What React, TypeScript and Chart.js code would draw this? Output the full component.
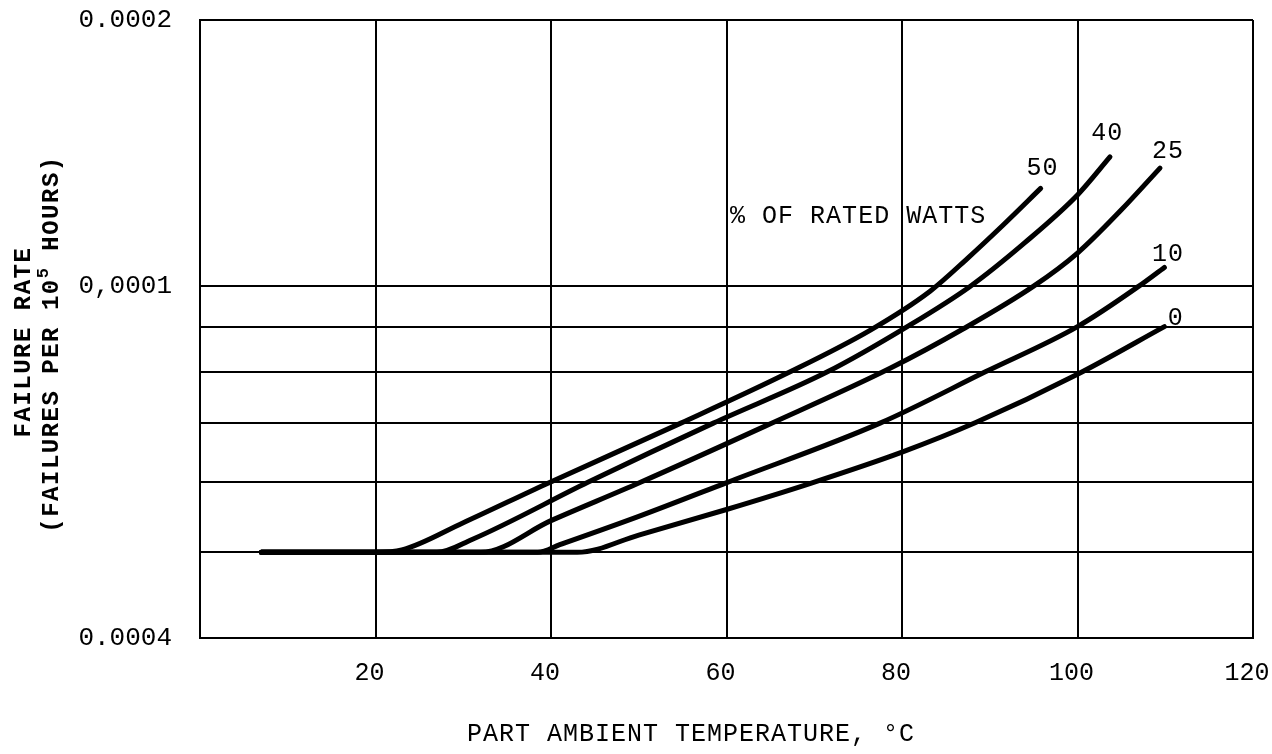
import { useEffect, useRef } from "react";
import { Chart, registerables } from "chart.js";

Chart.register(...registerables);

// ---------- data ----------
const temps50 = [7, 20, 23, 30, 39.4, 54.8, 66.9, 76.4, 83.2, 87.5, 91.5, 95.8];
const rates50 = [5e-5, 5e-5, 5.03e-5, 5.4e-5, 5.97e-5, 7e-5, 7.97e-5, 8.92e-5, 9.87e-5, 1.076e-4, 1.172e-4, 1.29e-4];

const temps40 = [7, 27, 31, 44.2, 58.5, 71.5, 80.6, 87.8, 94, 100, 103.7];
const rates40 = [5e-5, 5e-5, 5.17e-5, 6e-5, 7e-5, 8e-5, 9e-5, 1e-4, 1.12e-4, 1.268e-4, 1.4e-4];

const temps25 = [7, 32, 40, 50.2, 64.4, 78.7, 87, 95, 100, 105, 109.4];
const rates25 = [5e-5, 5e-5, 5.43e-5, 6e-5, 6.945e-5, 8.08e-5, 8.95e-5, 1e-4, 1.09e-4, 1.22e-4, 1.36e-4];

const temps10 = [7, 38.5, 41, 50, 60.1, 77.5, 89.5, 100, 107, 109.9];
const rates10 = [5e-5, 5e-5, 5.1e-5, 5.49e-5, 6e-5, 7e-5, 8e-5, 9e-5, 1e-4, 1.05e-4];

const temps0 = [7, 43, 50, 60, 69.5, 80, 88.4, 100, 109.9];
const rates0 = [5e-5, 5e-5, 5.23e-5, 5.59e-5, 5.98e-5, 6.49e-5, 7.01e-5, 7.95e-5, 9.0e-5];

const seriesNames = ["50", "40", "25", "10", "0"];
const seriesTemps = [temps50, temps40, temps25, temps10, temps0];
const seriesRates = [rates50, rates40, rates25, rates10, rates0];

// where the hand-written series numbers sit (data coordinates)
const labelTemps = [96.0, 103.4, 110.3, 110.3, 111.2];
const labelRates = [1.36e-4, 1.49e-4, 1.42e-4, 1.087e-4, 9.2e-5];

const xTickValues = [0, 20, 40, 60, 80, 100, 120];
const yTickValues = [0.00004, 0.00005, 0.00006, 0.00007, 0.00008, 0.00009, 0.0001, 0.0002];
const yTickText = ["0.0004", "", "", "", "", "", "0,0001", "0.0002"];

const xTitle = "PART AMBIENT TEMPERATURE, °C";
const yTitle1 = "FAILURE RATE";
const yTitle2Parts = ["(FAILURES PER 10", "5", " HOURS)"];
const noteText = "% OF RATED WATTS";
const noteTemp = 75;
const noteRate = 1.2e-4;

const MONO = '"Liberation Mono", "DejaVu Sans Mono", monospace';

const textPlugin = {
  id: "typedTexts",
  afterDraw(chart: any) {
    const ctx: CanvasRenderingContext2D = chart.ctx;
    const x = chart.scales.x;
    const y = chart.scales.y;
    ctx.save();
    ctx.fillStyle = "#000";
    ctx.textBaseline = "middle";
    ctx.textAlign = "center";
    (ctx as any).letterSpacing = "1px";
    ctx.font = `25px ${MONO}`;
    // x axis title
    ctx.fillText(xTitle, 691, 734);
    // annotation
    ctx.fillText(noteText, x.getPixelForValue(noteTemp), y.getPixelForValue(noteRate));
    // series labels
    seriesNames.forEach((n, i) => {
      ctx.fillText(n, x.getPixelForValue(labelTemps[i]), y.getPixelForValue(labelRates[i]));
    });
    // y axis title, line 1
    ctx.font = `bold 24px ${MONO}`;
    (ctx as any).letterSpacing = "1.5px";
    ctx.save();
    ctx.translate(24, 342);
    ctx.rotate(-Math.PI / 2);
    ctx.fillText(yTitle1, 0, 0);
    ctx.restore();
    // y axis title, line 2 with superscript
    ctx.save();
    ctx.translate(52, 344);
    ctx.rotate(-Math.PI / 2);
    ctx.textAlign = "left";
    const bigFont = `bold 24px ${MONO}`;
    const smallFont = `bold 17px ${MONO}`;
    ctx.font = bigFont;
    const w1 = ctx.measureText(yTitle2Parts[0]).width;
    const w3 = ctx.measureText(yTitle2Parts[2]).width;
    ctx.font = smallFont;
    const w2 = ctx.measureText(yTitle2Parts[1]).width;
    const start = -(w1 + w2 + w3) / 2;
    ctx.font = bigFont;
    ctx.fillText(yTitle2Parts[0], start, 0);
    ctx.font = smallFont;
    ctx.fillText(yTitle2Parts[1], start + w1, -8);
    ctx.font = bigFont;
    ctx.fillText(yTitle2Parts[2], start + w1 + w2, 0);
    ctx.restore();
    ctx.restore();
  },
};

export default function App() {
  const canvasRef = useRef<HTMLCanvasElement | null>(null);

  useEffect(() => {
    document.body.style.margin = "0";
    document.body.style.background = "#fff";
    const canvas = canvasRef.current;
    if (!canvas) return;

    const datasets = seriesNames.map((name, i) => ({
      label: name,
      data: seriesTemps[i].map((t, j) => ({ x: t, y: seriesRates[i][j] })),
      borderColor: "#000",
      backgroundColor: "#000",
      borderWidth: 5,
      pointRadius: 0,
      fill: false,
      cubicInterpolationMode: "monotone" as const,
      borderCapStyle: "round" as const,
      borderJoinStyle: "round" as const,
    }));

    const chart = new Chart(canvas, {
      type: "line",
      data: { datasets },
      plugins: [textPlugin],
      options: {
        animation: false,
        responsive: false,
        maintainAspectRatio: false,
        layout: { padding: { top: 20, right: 19, left: 0, bottom: 0 } },
        plugins: {
          legend: { display: false },
          tooltip: { enabled: false },
          title: { display: false },
        },
        scales: {
          x: {
            type: "linear",
            min: 0,
            max: 120,
            afterBuildTicks: (scale: any) => {
              scale.ticks = xTickValues.map((v) => ({ value: v }));
            },
            afterFit: (scale: any) => {
              scale.height = 116;
              scale.paddingLeft = 0;
              scale.paddingRight = 0;
            },
            ticks: {
              autoSkip: false,
              maxRotation: 0,
              padding: 20,
              labelOffset: -6,
              color: "#000",
              font: { family: MONO, size: 25 },
              callback: (v: any) => (Number(v) === 0 ? "" : String(v)),
            },
            grid: { color: "#000", lineWidth: 2, drawTicks: false },
            border: { display: true, color: "#000", width: 2 },
          },
          y: {
            type: "logarithmic",
            min: 0.00004,
            max: 0.0002,
            afterBuildTicks: (scale: any) => {
              scale.ticks = yTickValues.map((v) => ({ value: v }));
            },
            afterFit: (scale: any) => {
              scale.width = 200;
              scale.paddingTop = 0;
              scale.paddingBottom = 0;
            },
            ticks: {
              autoSkip: false,
              padding: 28,
              color: "#000",
              font: { family: MONO, size: 26 },
              callback: (v: any) => {
                const idx = yTickValues.findIndex((t) => Math.abs(t - Number(v)) / t < 1e-6);
                return idx >= 0 ? yTickText[idx] : "";
              },
            },
            grid: { color: "#000", lineWidth: 2, drawTicks: false },
            border: { display: true, color: "#000", width: 2 },
          },
        },
      },
    } as any);

    return () => chart.destroy();
  }, []);

  return (
    <div style={{ width: 1272, height: 754, background: "#fff" }}>
      <canvas ref={canvasRef} width={1272} height={754} style={{ display: "block" }} />
    </div>
  );
}
